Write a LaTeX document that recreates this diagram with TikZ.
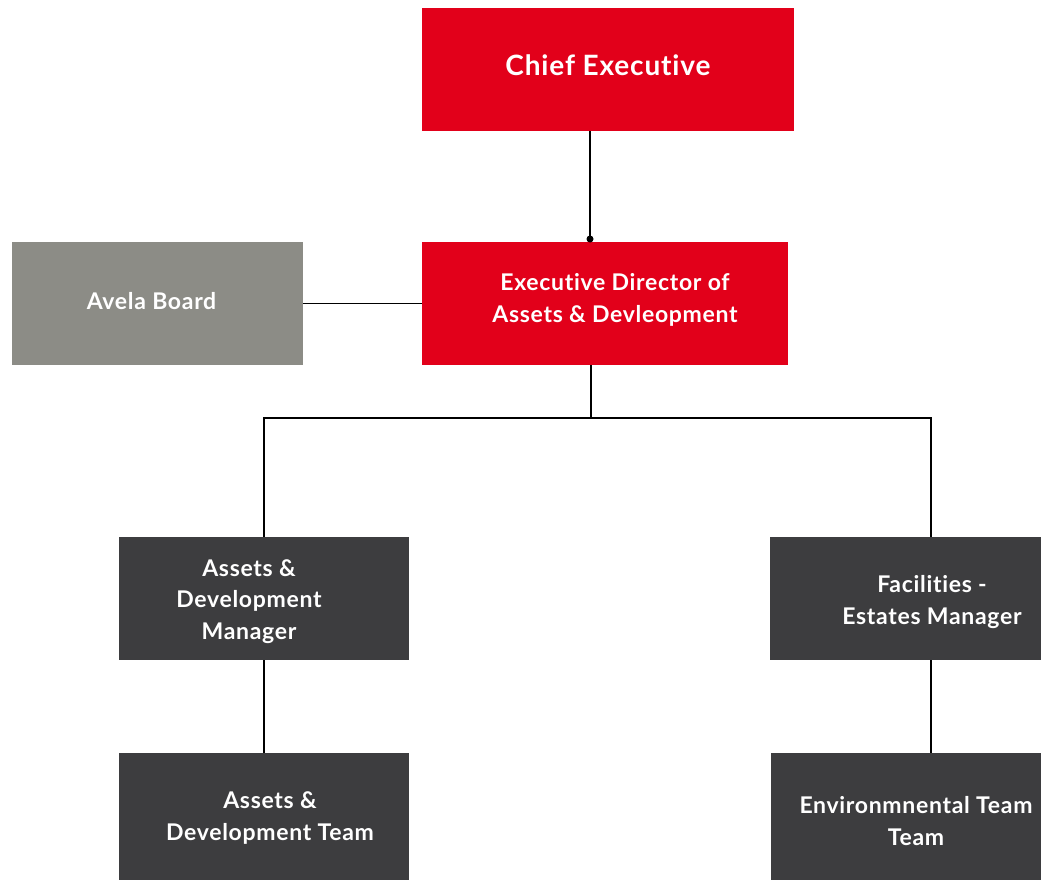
\documentclass[tikz,border=0pt]{standalone}
\usepackage{fontspec}
\setmainfont{Lato}[LetterSpace=3, Ligatures=NoCommon]
\definecolor{avred}{HTML}{E2001A}
\definecolor{avgrey}{HTML}{8C8C86}
\definecolor{avdark}{HTML}{3D3D3F}
\tikzset{
  orgbox/.style={rectangle, inner sep=0pt, minimum height=123pt},
  boxtext/.style={text=white, align=center, font=\fontsize{23}{31.5}\selectfont\bfseries},
  conn/.style={line width=1.6pt}
}
\begin{document}
\begin{tikzpicture}[x=1pt,y=-1pt]
  \useasboundingbox (0,0) rectangle (1041,880);
  \node[orgbox, fill=avred, minimum width=372pt] (ce) at (608,69.5) {};
  \node[orgbox, fill=avred, minimum width=366pt] (ed) at (605,303.5) {};
  \node[orgbox, fill=avgrey, minimum width=291pt] (ab) at (157.5,303.5) {};
  \node[orgbox, fill=avdark, minimum width=290pt] (adm) at (264,598.5) {};
  \node[orgbox, fill=avdark, minimum width=271pt] (fem) at (905.5,598.5) {};
  \node[orgbox, fill=avdark, minimum width=290pt, minimum height=127pt] (adt) at (264,816.5) {};
  \node[orgbox, fill=avdark, minimum width=270pt, minimum height=127pt] (ent) at (906,816.5) {};
  \node[boxtext, font=\fontsize{28}{34}\selectfont\bfseries, anchor=base] at (608,76) {Chief Executive};
  \node[boxtext] at (615,300) {Executive Director of\\Assets \& Devleopment};
  \node[boxtext, anchor=base] at (151.5,309) {Avela Board};
  \node[boxtext] at (249,601.5) {Assets \&\\Development\\Manager};
  \node[boxtext] at (932,602) {Facilities -\\Estates Manager};
  \node[boxtext] at (270,818) {Assets \&\\Development Team};
  \node[boxtext] at (916,821) {Environmnental Team\\Team};
  \coordinate (join) at (590,239);
  \coordinate (split) at (591,418);
  \coordinate (rbr) at (931,418);
  \draw[conn] (join |- ce.south) -- (join);
  \fill (join) circle (3.5pt);
  \draw[conn] (ab) -- (ed);
  \draw[conn] (split |- ed.south) -- (split);
  \draw[conn] (adm.north) |- (rbr) -- (rbr |- fem.north);
  \draw[conn] (adm) -- (adt);
  \draw[conn] (rbr |- fem.south) -- (rbr |- ent.north);
\end{tikzpicture}
\end{document}
